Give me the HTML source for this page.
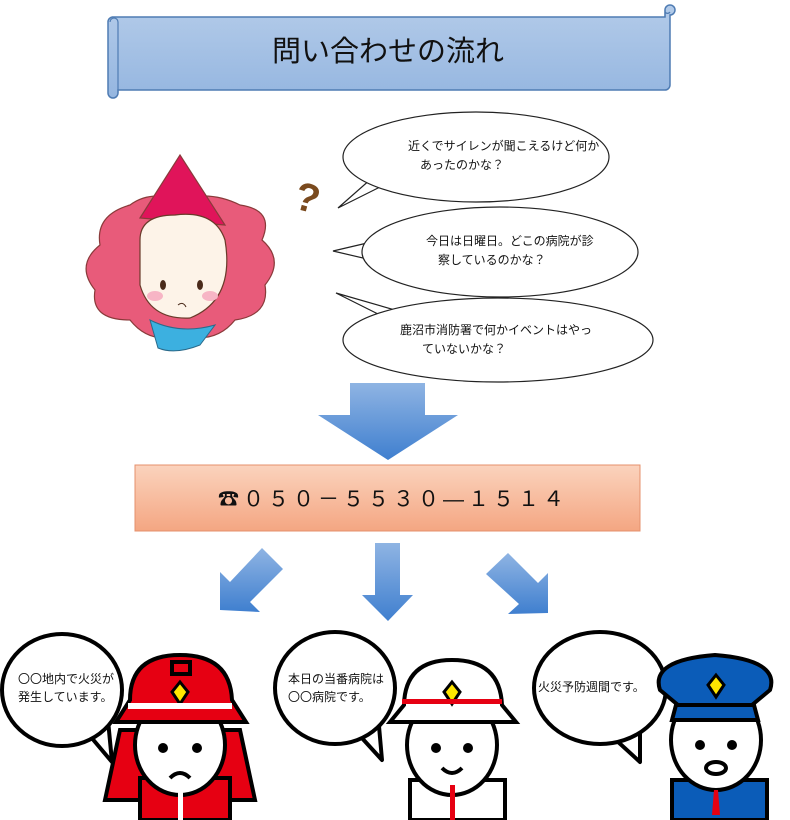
<!DOCTYPE html>
<html><head><meta charset="utf-8"><style>
html,body{margin:0;padding:0;background:#fff;}
svg{display:block;font-family:"Liberation Sans","Noto Sans CJK JP",sans-serif;}
</style></head><body>
<svg width="790" height="820" viewBox="0 0 790 820" xmlns="http://www.w3.org/2000/svg">
<defs>
<linearGradient id="ban" x1="0" y1="0" x2="0" y2="1"><stop offset="0" stop-color="#b3cbe9"/><stop offset="1" stop-color="#95b6e0"/></linearGradient>
<linearGradient id="arr" x1="0" y1="0" x2="0" y2="1"><stop offset="0" stop-color="#8fb4e3"/><stop offset="1" stop-color="#3f7fcf"/></linearGradient>
<linearGradient id="ph" x1="0" y1="0" x2="0" y2="1"><stop offset="0" stop-color="#fbd3bd"/><stop offset="1" stop-color="#f4a682"/></linearGradient>
</defs>
<!-- banner -->
<path d="M112 17 H665 V10 a5 5 0 0 1 5 -5 a4 4 0 0 1 0 10 V85 a5 5 0 0 1 -5 5 H118 V93 a5 5 0 0 1 -10 0 V22 a5 5 0 0 1 5 -5 Z" fill="url(#ban)" stroke="#4f7cb3" stroke-width="1.5"/>
<path d="M118 22 V93 M110 22 a4 4 0 0 1 8 0" fill="none" stroke="#4f7cb3" stroke-width="1.2"/>
<path d="M665 10 V17 M665 12 a3 3 0 0 0 5 0" fill="none" stroke="#4f7cb3" stroke-width="1.2"/>
<text x="388" y="61" font-size="29" text-anchor="middle" fill="#111">問い合わせの流れ</text>
<!-- top bubbles -->
<g fill="#fff" stroke="#222" stroke-width="1.2">
<path d="M390 182 L338 208 L372 178 Z"/>
<ellipse cx="476" cy="157" rx="133" ry="45"/>
<path d="M380 240 L333 251 L380 262 Z"/>
<ellipse cx="500" cy="252" rx="138" ry="45"/>
<path d="M380 315 L336 293 L395 310 Z"/>
<ellipse cx="498" cy="340" rx="155" ry="42"/>
</g>
<g font-size="12" fill="#111">
<text x="408" y="150">近くでサイレンが聞こえるけど何か</text>
<text x="420" y="169">あったのかな？</text>
<text x="426" y="245">今日は日曜日。どこの病院が診</text>
<text x="438" y="264">察しているのかな？</text>
<text x="400" y="334">鹿沼市消防署で何かイベントはやっ</text>
<text x="422" y="353">ていないかな？</text>
</g>
<!-- fairy -->
<text x="296" y="212" font-size="40" font-weight="bold" fill="#7a4a1e" transform="rotate(15 310 195)">?</text>
<path d="M130 205 Q95 215 100 245 Q75 265 95 290 Q90 320 130 320 Q150 345 180 335 Q215 345 235 320 Q270 315 265 285 Q285 260 262 240 Q275 210 240 205 Q210 190 180 200 Q150 190 130 205Z" fill="#e85b7a" stroke="#8a3a3a" stroke-width="1.2"/>
<path d="M140 218 L180 155 L225 225 Z" fill="#e0145a" stroke="#8a3a3a" stroke-width="1.2"/>
<path d="M140 240 Q140 215 175 215 Q215 210 225 240 Q235 300 190 318 Q150 320 140 285 Z" fill="#fdf3e8" stroke="#6a3a2a" stroke-width="1.2"/>
<path d="M150 320 Q180 335 215 325 L200 345 Q175 355 158 348 Z" fill="#3cb0e0" stroke="#2a6a8a"/>
<ellipse cx="155" cy="296" rx="8" ry="5" fill="#f7b5c5"/>
<ellipse cx="210" cy="296" rx="8" ry="5" fill="#f7b5c5"/>
<ellipse cx="163" cy="285" rx="3" ry="5" fill="#4a2a1a"/>
<ellipse cx="200" cy="285" rx="3" ry="5" fill="#4a2a1a"/>
<path d="M178 305 q5 -4 8 2" fill="none" stroke="#4a2a1a"/>
<!-- big arrow -->
<path d="M350 383 H425 V415 H458 L388 460 L318 415 H350 Z" fill="url(#arr)"/>
<!-- phone box -->
<rect x="135" y="465" width="505" height="66" fill="url(#ph)" stroke="#e4906c" stroke-width="1"/>
<text x="218" y="506" font-size="21" fill="#111" letter-spacing="4">☎０５０－５５３０—１５１４</text>
<!-- small arrows -->
<path d="M262 548 L283 569 L250 602 L260 612 L220 610 L220 572 L230 582 Z" fill="url(#arr)"/>
<path d="M375 543 H400 V595 H413 L388 621 L362 595 H375 Z" fill="url(#arr)"/>
<path d="M508 553 L486 574 L519 604 L508 614 L548 613 L548 573 L538 583 Z" fill="url(#arr)"/>
<!-- bottom bubbles -->
<g fill="#fff" stroke="#000" stroke-width="4" stroke-linejoin="round">
<path d="M85 730 L112 762 L108 720 Z"/>
<path d="M350 725 L382 760 L378 715 Z"/>
<path d="M605 730 L640 762 L640 720 Z"/>
<ellipse cx="62" cy="690" rx="60" ry="56"/>
<ellipse cx="335" cy="688" rx="60" ry="56"/>
<ellipse cx="600" cy="688" rx="66" ry="56"/>
</g>
<g font-size="12" fill="#111">
<text x="18" y="683">〇〇地内で火災が</text>
<text x="18" y="701">発生しています。</text>
<text x="288" y="683">本日の当番病院は</text>
<text x="288" y="701">〇〇病院です。</text>
<text x="538" y="691">火災予防週間です。</text>
</g>
<!-- char1 -->
<g stroke="#000" stroke-width="4">
<path d="M120 730 L105 800 H255 L240 730 Z" fill="#e60012"/>
<rect x="140" y="778" width="90" height="42" fill="#e60012"/>
<ellipse cx="180" cy="745" rx="45" ry="50" fill="#fff"/>
<path d="M130 700 Q130 655 180 655 Q230 655 232 700 L246 722 H116 Z" fill="#e60012"/>
<rect x="172" y="662" width="18" height="12" fill="#e60012"/>
<path d="M180 682 l8 10 -8 12 -8 -12z" fill="#ffe600" stroke-width="3"/>
</g>
<rect x="128" y="703" width="104" height="6" fill="#fff"/>
<rect x="178" y="790" width="5" height="30" fill="#fff"/>
<g fill="#000"><circle cx="163" cy="748" r="5"/><circle cx="197" cy="748" r="5"/></g>
<path d="M170 778 q10 -10 20 0" fill="none" stroke="#000" stroke-width="4"/>
<!-- char2 -->
<g stroke="#000" stroke-width="4">
<rect x="410" y="780" width="95" height="40" fill="#fff"/>
<ellipse cx="452" cy="745" rx="45" ry="50" fill="#fff"/>
<path d="M404 705 Q405 660 452 660 Q500 660 502 705 L516 722 H390 Z" fill="#fff"/>
<path d="M452 682 l8 10 -8 12 -8 -12z" fill="#ffe600" stroke-width="3"/>
</g>
<rect x="402" y="699" width="100" height="5" fill="#e60012"/>
<rect x="450" y="785" width="5" height="35" fill="#e60012"/>
<g fill="#000"><circle cx="436" cy="748" r="5"/><circle cx="468" cy="748" r="5"/></g>
<path d="M442 768 q10 10 20 0" fill="none" stroke="#000" stroke-width="4"/>
<!-- char3 -->
<g stroke="#000" stroke-width="4">
<rect x="672" y="780" width="95" height="40" fill="#0b5cb8"/>
<ellipse cx="716" cy="740" rx="45" ry="50" fill="#fff"/>
<path d="M660 690 Q650 660 715 655 Q780 660 770 690 L752 705 H678 Z" fill="#0b5cb8"/>
<path d="M676 705 H754 L758 720 H672 Z" fill="#0b5cb8"/>
<path d="M716 675 l8 10 -8 12 -8 -12z" fill="#ffe600" stroke-width="3"/>
</g>
<g fill="#000"><circle cx="700" cy="745" r="5"/><circle cx="732" cy="745" r="5"/></g>
<ellipse cx="716" cy="768" rx="10" ry="6" fill="#fff" stroke="#000" stroke-width="4"/>
<path d="M714 790 l4 0 2 25 -8 0z" fill="#e60012"/>
</svg>
</body></html>
